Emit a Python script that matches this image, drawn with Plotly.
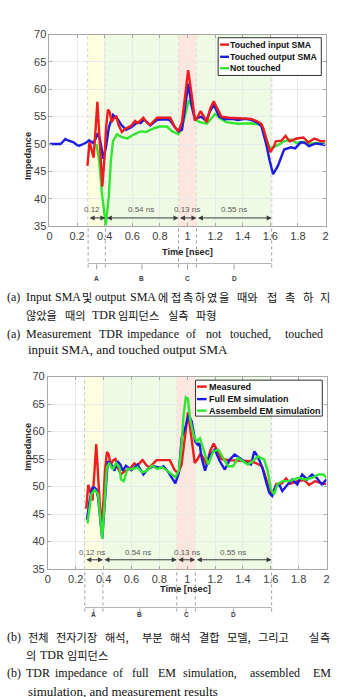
import plotly.graph_objects as go

W, H = 341, 697

# ---------------- data ----------------
# (a) measured TDR impedance
t_out = [0.00,0.04,0.08,0.10,0.115,0.14,0.175,0.20,0.216,0.245,0.27,0.287,0.316,0.335,0.35,0.365,0.39,0.41,0.43,0.46,0.495,0.52,0.555,0.59,0.64,0.66,0.686,0.73,0.78,0.85,0.875,0.91,0.935,0.96,0.98,1.005,1.03,1.054,1.08,1.10,1.135,1.16,1.19,1.23,1.27,1.32,1.365,1.42,1.46,1.50,1.535,1.555,1.57,1.595,1.62,1.655,1.70,1.75,1.78,1.82,1.85,1.88,1.93,1.96,2.00]
z_out = [50.0,50.0,50.0,50.5,50.9,50.6,50.3,49.8,49.7,50.0,50.3,50.7,50.2,51.0,52.0,51.0,47.3,49.5,53.0,55.3,54.5,53.5,52.6,53.0,54.0,53.8,54.5,53.4,54.4,54.5,54.3,53.0,52.3,52.6,56.0,61.0,57.0,54.5,54.8,55.0,54.2,55.8,57.2,55.0,54.5,54.6,54.4,54.6,54.4,54.0,53.3,51.5,50.0,47.0,44.5,46.0,49.0,49.4,49.2,50.3,50.2,49.6,50.1,50.0,49.8]

t_in = [0.275,0.29,0.30,0.32,0.335,0.347,0.365,0.383,0.40,0.41,0.424,0.437,0.45,0.47,0.485,0.50,0.525,0.55,0.59,0.62,0.64,0.68,0.71,0.73,0.78,0.85,0.875,0.91,0.935,0.96,0.98,1.005,1.03,1.054,1.075,1.095,1.115,1.14,1.165,1.19,1.21,1.245,1.30,1.37,1.46,1.50,1.535,1.55,1.58,1.60,1.625,1.64,1.68,1.71,1.74,1.79,1.84,1.875,1.92,1.97,2.00]
z_in = [46.0,50.3,49.5,47.5,53.0,57.7,50.0,42.2,48.0,53.0,56.3,55.8,54.0,54.8,55.0,53.5,52.2,52.8,53.3,54.2,53.8,54.8,53.8,53.5,54.8,54.8,54.8,53.0,52.4,54.0,58.0,63.5,59.0,54.3,55.0,56.0,55.2,54.0,56.5,57.8,56.8,55.0,54.8,54.7,54.6,54.2,53.7,52.8,50.0,48.5,49.5,50.5,50.6,51.5,50.5,51.0,51.2,50.3,51.0,50.5,50.5]

t_nt = [0.34,0.36,0.38,0.408,0.43,0.445,0.46,0.49,0.52,0.565,0.60,0.66,0.70,0.75,0.80,0.85,0.89,0.935,0.96,0.99,1.01,1.03,1.054,1.09,1.14,1.20,1.245,1.28,1.365,1.46,1.535,1.57,1.59,1.61,1.655,1.70,1.75,1.79,1.84,1.88,1.93,2.00]
z_nt = [50.0,47.0,41.0,35.2,40.5,47.0,50.5,51.8,51.3,51.0,51.6,52.3,52.2,52.8,53.2,53.2,52.3,51.8,53.0,56.0,58.0,57.0,54.5,54.0,53.7,55.5,54.5,54.0,53.7,53.8,53.5,51.0,49.5,49.3,49.8,50.5,50.8,50.2,50.4,50.0,50.2,50.0]

# (b) simulation vs measurement
t_meas = t_in
z_meas = z_in

t_full = [0.28,0.30,0.32,0.335,0.348,0.36,0.39,0.41,0.43,0.442,0.46,0.478,0.50,0.52,0.537,0.56,0.60,0.643,0.686,0.714,0.76,0.808,0.83,0.868,0.903,0.915,0.94,0.96,0.985,1.01,1.033,1.057,1.075,1.088,1.104,1.128,1.163,1.198,1.234,1.27,1.305,1.34,1.376,1.423,1.458,1.482,1.506,1.54,1.565,1.589,1.61,1.636,1.66,1.683,1.712,1.754,1.79,1.825,1.86,1.896,1.93,1.967,2.00]
z_full = [44.0,47.5,49.8,49.8,49.5,48.0,40.6,48.0,54.6,54.3,53.8,52.9,54.6,54.0,52.9,53.8,53.0,54.0,52.2,53.1,53.7,53.4,53.7,52.5,51.0,50.6,52.5,58.8,60.6,63.0,61.8,58.2,57.6,57.9,55.2,52.9,55.8,56.7,54.6,53.1,54.9,55.8,55.2,54.3,54.0,56.4,55.5,53.4,51.0,48.9,48.3,50.1,50.4,49.2,50.1,51.3,50.4,52.2,51.3,52.2,51.6,50.4,51.3]

t_asm = [0.284,0.30,0.312,0.336,0.36,0.39,0.41,0.423,0.44,0.466,0.49,0.513,0.525,0.544,0.572,0.61,0.643,0.678,0.71,0.749,0.785,0.82,0.856,0.891,0.915,0.94,0.958,0.974,0.99,1.005,1.02,1.045,1.068,1.092,1.128,1.15,1.187,1.223,1.258,1.294,1.33,1.364,1.40,1.435,1.47,1.506,1.553,1.577,1.60,1.624,1.648,1.683,1.73,1.766,1.80,1.849,1.896,1.943,1.978,2.00]
z_asm = [43.3,46.5,48.6,49.4,48.6,40.6,49.0,53.4,54.3,53.1,54.3,53.5,51.3,51.0,53.2,53.2,53.5,52.6,52.9,53.8,53.2,53.5,52.9,52.2,51.7,52.9,57.0,63.0,66.2,66.0,62.4,59.4,58.2,58.8,55.8,54.0,56.4,56.7,55.2,53.7,53.7,55.2,54.6,54.0,54.6,55.5,54.9,52.9,49.6,48.6,50.4,51.0,51.0,51.3,51.6,51.3,51.6,52.2,52.2,51.6]

for a_, b_ in [(t_out, z_out), (t_in, z_in), (t_nt, z_nt), (t_full, z_full), (t_asm, z_asm)]:
    assert len(a_) == len(b_)

# region boundaries [ns] and labels
bounds_a = [0.28, 0.405, 0.935, 1.065, 1.61]
bounds_b = [0.265, 0.395, 0.925, 1.058, 1.606]
seg_names = ["A", "B", "C", "D"]
seg_text_a = ["0.12", "0.54 ns", "0.13 ns", "0.55 ns"]
seg_text_b = ["0.12 ns", "0.54 ns", "0.13 ns", "0.55 ns"]

x_ticks = [0, 0.2, 0.4, 0.6, 0.8, 1.0, 1.2, 1.4, 1.6, 1.8, 2.0]
x_tick_text = ["0", "0.2", "0.4", "0.6", "0.8", "1", "1.2", "1.4", "1.6", "1.8", "2"]
y_ticks = [35, 40, 45, 50, 55, 60, 65, 70]

names_a = ["Touched input SMA", "Touched output SMA", "Not touched"]
names_b = ["Measured", "Full EM simulation", "Assembeld EM simulation"]

# ---------------- styling ----------------
RED, BLUE, GREEN = "#ee1c1c", "#1c1ce0", "#30e630"
seg_colors = ["#fdfde0", "#effae5", "#fce6de", "#effae5"]
SANS = "Arial, Liberation Sans, sans-serif"
SERIF = "Liberation Serif, Times New Roman, Noto Serif CJK KR, Noto Sans CJK KR, serif"
KFONT = "Noto Sans CJK KR, sans-serif"


def fx(px):
    return px / W


def fy(py):
    return 1 - py / H


GA = dict(l=47.3, r=328.3, t=29, b=224)
GB = dict(l=45.7, r=329.3, t=377, b=573)

fig = go.Figure()


def add(t, z, color, xa, ya, name):
    fig.add_trace(go.Scatter(x=t, y=z, mode="lines", name=name,
                             line=dict(color=color, width=2.4),
                             xaxis=xa, yaxis=ya, showlegend=False,
                             hoverinfo="skip"))


add(t_nt, z_nt, GREEN, "x", "y", names_a[2])
add(t_out, z_out, BLUE, "x", "y", names_a[1])
add(t_in, z_in, RED, "x", "y", names_a[0])
add(t_meas, z_meas, RED, "x2", "y2", names_b[0])
add(t_full, z_full, BLUE, "x2", "y2", names_b[1])
add(t_asm, z_asm, GREEN, "x2", "y2", names_b[2])

axis_common = dict(showline=True, linecolor="#a8a8a8", linewidth=1, mirror="ticks",
                   ticks="inside", ticklen=3, tickcolor="#a8a8a8",
                   showgrid=True, gridcolor="#e9e9e9", gridwidth=1, zeroline=False,
                   tickfont=dict(family=SANS, size=11, color="#404040"))

shapes = []
annotations = []


def build_chart(G, xr, yr, bounds, seg_text, seg_text_x, z_lab, z_arr,
                bracket_py, letter_py, legend_box, legend_rows, legend_line,
                legend_text_x, names, colors, legend_size):
    # shaded regions
    for i in range(4):
        shapes.append(dict(type="rect", xref=xr, yref=yr, x0=bounds[i], x1=bounds[i + 1],
                           y0=35, y1=70, fillcolor=seg_colors[i], line=dict(width=0),
                           layer="below"))
    # dashed boundary lines extending to the bracket
    for b in bounds:
        shapes.append(dict(type="line", xref=xr, yref="paper", x0=b, x1=b,
                           y0=fy(bracket_py + 4), y1=fy(G["t"]),
                           line=dict(color="#9c9c9c", width=1, dash="dot"), layer="below"))
    # bracket under the axis
    shapes.append(dict(type="line", xref=xr, yref="paper", x0=bounds[0], x1=bounds[-1],
                       y0=fy(bracket_py), y1=fy(bracket_py),
                       line=dict(color="#b4b4b4", width=1)))
    for i in range(4):
        c = (bounds[i] + bounds[i + 1]) / 2
        shapes.append(dict(type="line", xref=xr, yref="paper", x0=c, x1=c,
                           y0=fy(bracket_py + 1), y1=fy(bracket_py + 6),
                           line=dict(color="#9c9c9c", width=1)))
        annotations.append(dict(x=c, y=fy(letter_py), xref=xr, yref="paper",
                                text="<b>%s</b>" % seg_names[i], showarrow=False,
                                font=dict(family=SANS, size=6.5, color="#404040")))
        # double arrow and duration label
        annotations.append(dict(x=bounds[i + 1], y=z_arr, ax=bounds[i], ay=z_arr,
                                xref=xr, yref=yr, axref=xr, ayref=yr, text="",
                                showarrow=True, arrowside="end+start",
                                arrowhead=2, startarrowhead=2, arrowsize=1,
                                startarrowsize=1, arrowwidth=1, arrowcolor="#3a3a3a",
                                standoff=0, startstandoff=0))
        annotations.append(dict(x=seg_text_x[i], y=z_lab, xref=xr, yref=yr,
                                text=seg_text[i], showarrow=False,
                                font=dict(family=SANS, size=8, color="#5a5a5a")))
    # manual legend
    x0, y0, x1, y1 = legend_box
    shapes.append(dict(type="rect", xref="paper", yref="paper", x0=fx(x0), x1=fx(x1),
                       y0=fy(y1), y1=fy(y0), fillcolor="white",
                       line=dict(color="#303030", width=1), layer="above"))
    for row, name, col in zip(legend_rows, names, colors):
        shapes.append(dict(type="line", xref="paper", yref="paper",
                           x0=fx(legend_line[0]), x1=fx(legend_line[1]),
                           y0=fy(row), y1=fy(row), line=dict(color=col, width=2.4),
                           layer="above"))
        annotations.append(dict(x=fx(legend_text_x), y=fy(row), xref="paper", yref="paper",
                                xanchor="left", yanchor="middle", borderpad=0,
                                text="<b>%s</b>" % name, showarrow=False,
                                font=dict(family=SANS, size=legend_size, color="#111111")))


build_chart(GA, "x", "y", bounds_a, seg_text_a, [0.31, 0.664, 1.0, 1.338], 38.0, 36.5,
            262, 277.3, (219, 32.3, 324, 70.7), [39.3, 51.7, 63.3], (221, 230), 230.5,
            names_a, [RED, BLUE, GREEN], 8.7)
build_chart(GB, "x2", "y2", bounds_b, seg_text_b, [0.319, 0.645, 0.996, 1.328], 38.1, 36.7,
            612, 624.5, (196, 380.7, 325, 417.3), [387.3, 400, 411.7], (197.5, 207.3), 208.3,
            names_b, [RED, BLUE, GREEN], 9.0)

# axis titles
for (xp, yp) in [(19, 126.5), (18.3, 475)]:
    annotations.append(dict(x=fx(xp), y=fy(yp), xref="paper", yref="paper",
                            text="<b>Impedance</b>", textangle=-90, showarrow=False,
                            font=dict(family=SANS, size=9.2, color="#262626")))
for (xp, yp) in [(187.5, 250.7), (186, 600)]:
    annotations.append(dict(x=fx(xp), y=fy(yp), xref="paper", yref="paper",
                            text="<b>Time [nsec]</b>", showarrow=False,
                            font=dict(family=SANS, size=9.2, color="#262626")))

# captions (word positions in pixels; justified lines)
captions = [
    (296.0, [("(a)", 2.7, None), ("Input", 22.7, None), ("SMA", 51.5, None), ("및", 79.0, None),
             ("output", 93.0, None), ("SMA", 128.0, None), ("에", 156.5, None),
             ("접촉하였을", 169.5, 230.5), ("때와", 237.5, None), ("접촉하지", 268.0, 333.0)]),
    (314.0, [("않았을", 22.0, None), ("때의", 61.7, None), ("TDR", 89.3, None),
             ("임피던스", 116.5, None), ("실측", 166.7, None), ("파형", 195.0, None)]),
    (333.3, [("(a)", 2.7, None), ("Measurement", 22.7, None), ("TDR", 96.5, None),
             ("impedance", 125.0, None), ("of", 185.0, None), ("not", 206.0, None),
             ("touched,", 230.0, None), ("touched", 286.0, None)]),
    (350.0, [("inpuit SMA, and touched output SMA", 24.0, None)]),
    (641.7, [("(b)", 2.7, None), ("전체", 24.0, None), ("전자기장", 53.3, None),
             ("해석,", 103.3, None), ("부분", 140.0, None), ("해석", 169.3, None),
             ("결합", 198.3, None), ("모델,", 226.7, None), ("그리고", 258.3, None),
             ("실측", 310.0, 333.3)]),
    (660.0, [("의", 22.7, None), ("TDR", 36.7, None), ("임피던스", 64.0, None)]),
    (678.3, [("(b)", 2.7, None), ("TDR", 22.7, None), ("impedance", 51.5, None),
             ("of", 110.5, None), ("full", 130.0, None), ("EM", 156.7, None),
             ("simulation,", 181.7, None), ("assembled", 250.0, None), ("EM", 315.0, None)]),
    (697.0, [("simulation, and measurement results", 24.0, None)]),
]


def is_hangul(w):
    return any("\uac00" <= c <= "\ud7a3" for c in w)


for py, words in captions:
    single = len(words) == 1
    for word, x0, x1 in words:
        if is_hangul(word):
            size = 11.2
            if x1 is not None and len(word) > 1:
                step = (x1 - x0 - size) / (len(word) - 1)
                for i, ch in enumerate(word):
                    annotations.append(dict(x=fx(x0 + i * step), y=fy(py), xref="paper",
                                            yref="paper", xanchor="left", yanchor="middle",
                                            borderpad=0, text=ch, showarrow=False,
                                            font=dict(family=KFONT, size=size, color="#111111")))
                continue
            fam = KFONT
        else:
            size = 13 if single else 12
            fam = SERIF
        annotations.append(dict(x=fx(x0), y=fy(py), xref="paper", yref="paper",
                                xanchor="left", yanchor="middle", borderpad=0,
                                text=word, showarrow=False,
                                font=dict(family=fam, size=size, color="#111111")))

fig.update_layout(
    width=W, height=H, margin=dict(l=0, r=0, t=0, b=0),
    paper_bgcolor="white", plot_bgcolor="white", showlegend=False,
    xaxis=dict(domain=[fx(GA["l"]), fx(GA["r"])], range=[0, 2], tickvals=x_ticks,
               ticktext=x_tick_text, anchor="y", **axis_common),
    yaxis=dict(domain=[fy(GA["b"]), fy(GA["t"])], range=[35, 70], tickvals=y_ticks,
               anchor="x", **axis_common),
    xaxis2=dict(domain=[fx(GB["l"]), fx(GB["r"])], range=[0, 2], tickvals=x_ticks,
                ticktext=x_tick_text, anchor="y2", **axis_common),
    yaxis2=dict(domain=[fy(GB["b"]), fy(GB["t"])], range=[35, 70], tickvals=y_ticks,
                anchor="x2", **axis_common),
    shapes=shapes, annotations=annotations,
)

fig.write_html("out.html")
